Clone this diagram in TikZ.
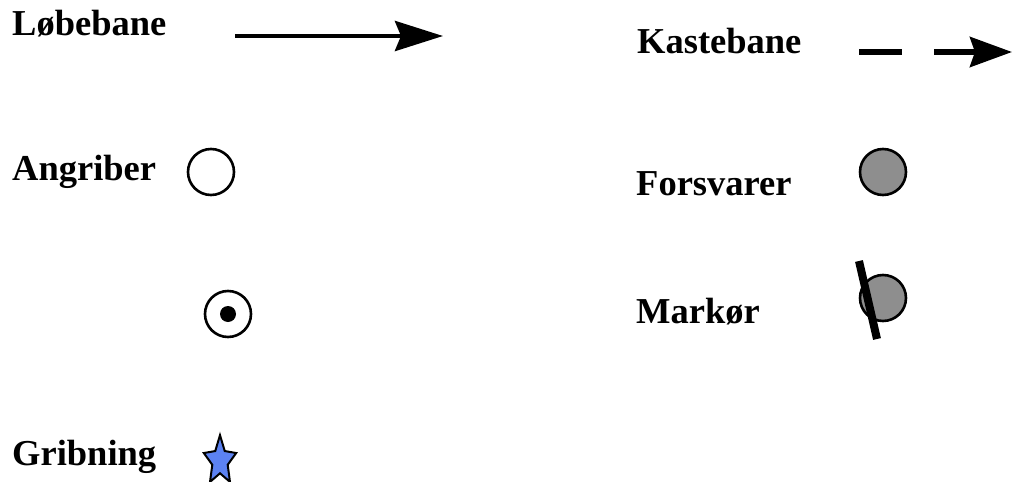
\documentclass[tikz,border=0pt]{standalone}
\usepackage{fontspec}
\setmainfont{Liberation Serif}
\usetikzlibrary{arrows.meta,shapes.geometric}
\definecolor{defgray}{RGB}{142,142,142}
\definecolor{starblue}{RGB}{92,130,242}
\tikzset{
  lbl/.style={anchor=base west,inner sep=0pt,font=\fontsize{36.5}{40}\selectfont\bfseries},
  player/.style={circle,draw=black,line width=2.6pt,minimum size=46pt,inner sep=0pt},
  tipstyle/.style={-{Stealth[length=48pt,width=30pt,inset=6pt]}},
}
\begin{document}
\begin{tikzpicture}[x=1pt,y=-1pt]
\useasboundingbox (0,0) rectangle (1013,482);
% labels
\node[lbl] (l1) at (12,35) {Løbebane};
\node[lbl] (l2) at (637,53) {Kastebane};
\node[lbl] (l3) at (12,180) {Angriber};
\node[lbl] (l4) at (636,195) {Forsvarer};
\node[lbl] (l5) at (636,323) {Markør};
\node[lbl] (l6) at (12,465) {Gribning};
% running path
\coordinate (r1) at (235,36);
\coordinate (r2) at (443,36);
\draw[line width=4.5pt,tipstyle] (r1) -- (r2);
% throwing path
\coordinate (k1) at (859,52);
\coordinate (k2) at (1012,52);
\draw[line width=5.5pt,dash pattern=on 43pt off 32pt,-{Stealth[length=42pt,width=30pt,inset=5pt]}] (k1) -- (k2);
% attacker
\node[player] (att) at (211,172) {};
% attacker with ball
\node[player] (ball) at (228,314) {};
\fill (ball.center) circle (8);
% defender
\node[player,fill=defgray] (def) at (883,172) {};
% marker
\node[player,fill=defgray] (mark) at (883,298) {};
\coordinate (m1) at (859,261);
\coordinate (m2) at (877,339);
\draw[line width=8pt] (m1) -- (m2);
% catch star
\node[star,star points=5,star point ratio=2.1,draw=black,line width=2pt,fill=starblue,minimum size=34pt,inner sep=0pt,yscale=1.52] (st) at (220,461) {};
\end{tikzpicture}
\end{document}
